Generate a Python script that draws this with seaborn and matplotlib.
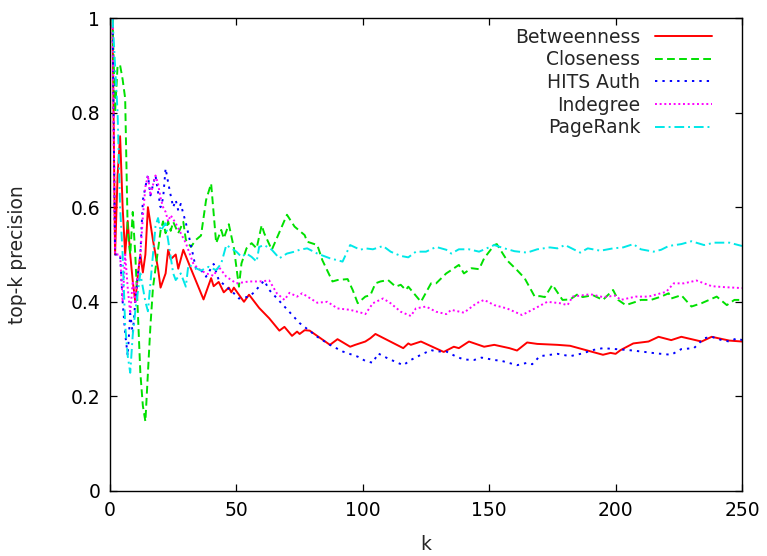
import matplotlib
matplotlib.use("Agg")
import matplotlib.pyplot as plt
import seaborn as sns
import pandas as pd

# ---- data ----
btw_k = [1,2,3,4,5,6,7,8,9,10,11,12,13,14,15,17,19,20,22,23,24,26,27,29,32,37,40,41,43,45,47,48,49,53,55,59,63,67,69,72,74,75,77,79,87,90,95,97,101,103,105,116,118,119,123,132,136,138,142,148,152,158,161,165,169,177,182,195,198,200,202,207,210,213,217,222,226,234,238,245,250]
btw_v = [1.0,0.5,0.667,0.75,0.6,0.5,0.571,0.5,0.444,0.40,0.455,0.5,0.462,0.5,0.60,0.53,0.47,0.43,0.46,0.51,0.49,0.50,0.47,0.51,0.47,0.405,0.45,0.433,0.442,0.42,0.43,0.42,0.43,0.40,0.415,0.387,0.365,0.339,0.347,0.328,0.337,0.332,0.34,0.339,0.309,0.321,0.305,0.309,0.316,0.323,0.332,0.302,0.312,0.309,0.316,0.294,0.305,0.302,0.316,0.305,0.309,0.302,0.297,0.314,0.311,0.309,0.307,0.288,0.292,0.290,0.298,0.312,0.314,0.316,0.326,0.319,0.326,0.316,0.326,0.318,0.316]

clo_k = [1,2,3,4,5,6,7,8,9,10,11,12,13,14,15,16,17,18,19,20,21,22,23,24,25,27,29,30,32,34,36,38,40,42,44,45,47,49,51,52,54,56,58,60,61,64,70,73,77,78,82,84,88,90,94,96,98,101,103,105,107,110,113,115,117,118,123,127,129,133,135,138,140,143,146,148,152,153,157,161,164,168,170,172,175,179,182,185,187,191,195,199,201,204,208,210,214,218,221,222,226,230,234,240,244,247,250]
clo_v = [1.0,0.8,0.9,0.9,0.87,0.83,0.55,0.5,0.59,0.5,0.38,0.25,0.18,0.147,0.25,0.35,0.43,0.47,0.51,0.55,0.57,0.545,0.57,0.55,0.569,0.545,0.569,0.531,0.516,0.531,0.54,0.615,0.65,0.524,0.552,0.534,0.564,0.514,0.432,0.481,0.513,0.524,0.513,0.562,0.545,0.51,0.584,0.559,0.541,0.527,0.52,0.488,0.443,0.446,0.448,0.425,0.397,0.411,0.414,0.439,0.443,0.446,0.432,0.436,0.425,0.432,0.40,0.439,0.439,0.46,0.467,0.478,0.46,0.471,0.469,0.492,0.52,0.522,0.488,0.467,0.45,0.411,0.412,0.41,0.436,0.404,0.405,0.416,0.41,0.414,0.404,0.425,0.404,0.393,0.40,0.404,0.404,0.411,0.418,0.407,0.414,0.39,0.397,0.411,0.393,0.404,0.404]

hits_k = [1,2,3,4,5,6,7,8,9,10,11,12,13,14,15,16,17,18,19,20,21,22,23,24,25,26,27,28,29,30,32,34,36,38,41,43,46,49,51,55,57,61,63,69,75,82,87,92,98,101,104,106,110,116,119,123,127,129,133,137,140,144,147,152,155,161,165,167,170,177,182,187,191,195,200,205,210,216,222,226,231,235,238,242,245,248,250]
hits_v = [1.0,0.5,0.5,0.5,0.4,0.333,0.286,0.375,0.333,0.40,0.455,0.5,0.615,0.643,0.667,0.625,0.647,0.667,0.632,0.60,0.619,0.682,0.652,0.625,0.60,0.615,0.593,0.607,0.586,0.567,0.52,0.47,0.467,0.453,0.48,0.446,0.432,0.418,0.407,0.411,0.42,0.445,0.425,0.39,0.355,0.326,0.309,0.295,0.284,0.275,0.271,0.291,0.28,0.266,0.277,0.288,0.298,0.295,0.295,0.284,0.278,0.277,0.282,0.277,0.275,0.266,0.271,0.268,0.285,0.29,0.285,0.291,0.298,0.302,0.30,0.298,0.295,0.291,0.288,0.30,0.302,0.323,0.326,0.319,0.316,0.323,0.319]

ind_k = [1,2,3,4,5,6,7,8,9,10,11,12,13,14,15,16,17,18,19,20,21,22,23,24,26,28,30,33,35,38,41,43,46,50,55,59,63,66,69,71,74,76,82,86,90,95,100,101,104,108,111,115,119,121,125,129,133,135,140,145,148,152,157,163,167,173,178,181,183,190,195,200,202,208,213,220,223,227,232,238,243,250]
ind_v = [1.0,0.5,0.5,0.5,0.4,0.5,0.43,0.375,0.444,0.4,0.455,0.5,0.58,0.643,0.667,0.625,0.647,0.667,0.65,0.62,0.60,0.59,0.57,0.583,0.566,0.545,0.524,0.48,0.47,0.46,0.455,0.474,0.453,0.439,0.443,0.443,0.445,0.418,0.404,0.419,0.411,0.418,0.398,0.40,0.386,0.383,0.376,0.374,0.397,0.407,0.397,0.379,0.37,0.386,0.39,0.379,0.374,0.383,0.377,0.397,0.404,0.393,0.386,0.372,0.383,0.40,0.397,0.393,0.411,0.416,0.41,0.413,0.404,0.411,0.411,0.421,0.439,0.439,0.445,0.433,0.431,0.429]

pr_k = [1,2,3,4,5,6,7,8,9,10,11,12,13,14,15,16,17,18,19,20,22,23,24,25,26,28,30,31,34,36,39,42,44,46,48,50,52,54,56,58,59,61,64,67,70,73,75,78,82,87,92,95,99,101,104,108,111,115,118,121,125,129,133,135,138,142,146,149,152,156,160,165,169,174,177,180,186,189,194,199,203,207,210,215,218,221,226,230,235,239,245,250]
pr_v = [1.0,0.9,0.8,0.6,0.5,0.35,0.286,0.25,0.33,0.38,0.42,0.46,0.43,0.40,0.38,0.44,0.5,0.56,0.577,0.55,0.566,0.53,0.495,0.46,0.446,0.46,0.432,0.478,0.471,0.466,0.474,0.467,0.481,0.52,0.513,0.506,0.495,0.502,0.495,0.485,0.516,0.52,0.51,0.492,0.502,0.506,0.51,0.513,0.502,0.492,0.485,0.52,0.51,0.513,0.511,0.518,0.506,0.497,0.494,0.506,0.506,0.516,0.51,0.502,0.511,0.511,0.506,0.513,0.52,0.513,0.507,0.504,0.511,0.515,0.513,0.52,0.504,0.513,0.508,0.513,0.515,0.522,0.511,0.506,0.51,0.518,0.522,0.528,0.52,0.525,0.525,0.518]

x_ticks = [0, 50, 100, 150, 200, 250]
y_ticks = [0, 0.2, 0.4, 0.6, 0.8, 1]
y_tick_labels = ["0", "0.2", "0.4", "0.6", "0.8", "1"]

series = [
    ("Betweenness", btw_k, btw_v, "#ff0000", "-"),
    ("Closeness", clo_k, clo_v, "#00e000", (0, (4, 2.2))),
    ("HITS Auth", hits_k, hits_v, "#0000ff", (0, (1.2, 2.6))),
    ("Indegree", ind_k, ind_v, "#ff00ff", (0, (1, 1.4))),
    ("PageRank", pr_k, pr_v, "#00e8e8", (0, (5, 2, 1, 2))),
]

FS = 13.5

sns.set_style("ticks")
plt.rcParams["font.family"] = ["DejaVu Sans"]

fig = plt.figure(figsize=(7.67, 5.56), dpi=100)
ax = fig.add_axes([110/767, 1 - 491/556, 632/767, 473/556])

for name, ks, vs, col, ls in series:
    df = pd.DataFrame({"k": ks, "v": vs})
    sns.lineplot(data=df, x="k", y="v", ax=ax, color=col, linestyle=ls,
                 linewidth=1.4, label=name, estimator=None, sort=False)

ax.set_xlim(0, 250)
ax.set_ylim(0, 1)
ax.set_xticks(x_ticks)
ax.set_yticks(y_ticks)
ax.set_yticklabels(y_tick_labels)
ax.tick_params(direction="in", length=5, width=0.9, top=True, right=True,
               labelsize=FS, pad=7, colors="black")
for s in ax.spines.values():
    s.set_visible(True)
    s.set_linewidth(1.0)
    s.set_color("black")
ax.set_xlabel("k", fontsize=FS)
ax.set_ylabel("top-k precision", fontsize=FS)
ax.xaxis.set_label_coords(0.5, -0.114)
ax.yaxis.set_label_coords(-0.146, 0.5)
ax.xaxis.label.set_va("center")
ax.yaxis.label.set_va("center")

leg = ax.legend(loc="upper right", bbox_to_anchor=(0.952, 0.979),
                markerfirst=False, frameon=False, fontsize=FS,
                handlelength=3.0, handletextpad=0.8, labelspacing=0.19,
                borderpad=0, borderaxespad=0)
for t in leg.get_texts():
    t.set_ha("right")
leg._legend_box.align = "right"

fig.savefig("out.png", dpi=100)
